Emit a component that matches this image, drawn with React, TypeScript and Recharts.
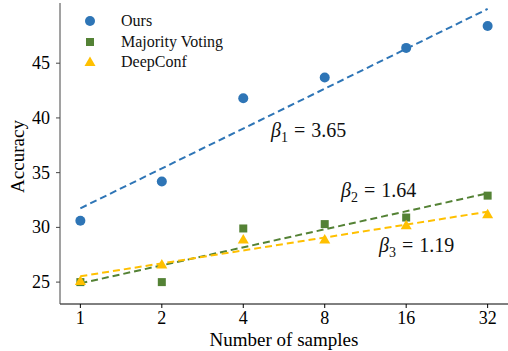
import React from "react";
import { ComposedChart, Scatter, XAxis, YAxis } from "recharts";

// number of samples (x axis, log2 spaced)
const samples = [1, 2, 4, 8, 16, 32];
// accuracy per method
const ours = [30.6, 34.2, 41.8, 43.7, 46.4, 48.4];
const majority = [25.0, 25.0, 29.9, 30.3, 30.9, 32.9];
const deepconf = [25.1, 26.6, 28.9, 28.9, 30.2, 31.2];
const yTicks = [25, 30, 35, 40, 45];

const BLUE = "#2e75b6";
const GREEN = "#548235";
const YELLOW = "#ffc000";
const FONT = "'Liberation Serif', 'Times New Roman', serif";

const toPoints = (ys: number[]) => samples.map((x, i) => ({ x, y: ys[i] }));

// least squares fit of y against log2(x), drawn from first to last sample
function fitLine(ys: number[]) {
  const lx = samples.map((s) => Math.log2(s));
  const mx = lx.reduce((a, b) => a + b, 0) / lx.length;
  const my = ys.reduce((a, b) => a + b, 0) / ys.length;
  let num = 0;
  let den = 0;
  lx.forEach((v, i) => {
    num += (v - mx) * (ys[i] - my);
    den += (v - mx) * (v - mx);
  });
  const slope = num / den;
  const icpt = my - slope * mx;
  const first = samples[0];
  const last = samples[samples.length - 1];
  return [
    { x: first, y: icpt + slope * Math.log2(first) },
    { x: last, y: icpt + slope * Math.log2(last) },
  ];
}

const Circle = (p: any) => <circle cx={p.cx} cy={p.cy} r={5} fill={BLUE} />;
const Square = (p: any) => (
  <rect x={p.cx - 4} y={p.cy - 4} width={8} height={8} fill={GREEN} />
);
const Triangle = (p: any) => (
  <polygon
    points={`${p.cx},${p.cy - 5.5} ${p.cx - 5.5},${p.cy + 4} ${p.cx + 5.5},${p.cy + 4}`}
    fill={YELLOW}
  />
);
const NoDot = () => <g />;

const XTick = (p: any) => (
  <text x={p.x} y={p.y + 12} textAnchor="middle" fontFamily={FONT} fontSize={18} fill="#000">
    {p.payload.value}
  </text>
);
const YTick = (p: any) => (
  <text x={p.x - 2} y={p.y + 6} textAnchor="end" fontFamily={FONT} fontSize={18} fill="#000">
    {p.payload.value}
  </text>
);

const legendItems = [
  { name: "Ours", color: BLUE, kind: "circle" },
  { name: "Majority Voting", color: GREEN, kind: "square" },
  { name: "DeepConf", color: YELLOW, kind: "triangle" },
];

function Beta({ sub, val, left, top }: { sub: number; val: string; left: number; top: number }) {
  return (
    <div
      style={{
        position: "absolute",
        left,
        top,
        fontFamily: FONT,
        fontSize: 20,
        color: "#111",
        whiteSpace: "nowrap",
      }}
    >
      <i>β</i>
      <sub style={{ fontSize: 14 }}>{sub}</sub>
      <span style={{ margin: "0 6px" }}>=</span>
      {val}
    </div>
  );
}

export default function App() {
  const dash = { strokeWidth: 2, strokeDasharray: "7 4" };
  return (
    <div style={{ position: "absolute", left: 0, top: 0, width: 508, height: 351, background: "#fff", fontFamily: FONT }}>
      <ComposedChart width={508} height={351} margin={{ top: 3, right: 0, bottom: 0, left: 10 }} style={{ fontFamily: FONT }}>
        <XAxis
          dataKey="x"
          type="number"
          scale="log"
          domain={[2 ** -0.25, 2 ** 5.25]}
          ticks={samples}
          allowDataOverflow
          height={47}
          stroke="#000"
          tickSize={4}
          tickMargin={4}
          tick={XTick}
          label={{
            value: "Number of samples",
            position: "insideBottom",
            offset: 5,
            style: { fontFamily: FONT, fontSize: 19, fill: "#000" },
          }}
        />
        <YAxis
          dataKey="y"
          type="number"
          domain={[23, 50.5]}
          ticks={yTicks}
          allowDataOverflow
          width={50}
          stroke="#444"
          tickSize={4}
          tickMargin={4}
          tick={YTick}
          label={{
            value: "Accuracy",
            angle: -90,
            position: "insideLeft",
            offset: 7,
            dy: 3,
            style: { fontFamily: FONT, fontSize: 19, fill: "#000", textAnchor: "middle" },
          }}
        />
        <Scatter data={fitLine(ours)} line={{ stroke: BLUE, ...dash }} shape={NoDot} isAnimationActive={false} />
        <Scatter data={fitLine(majority)} line={{ stroke: GREEN, ...dash }} shape={NoDot} isAnimationActive={false} />
        <Scatter data={fitLine(deepconf)} line={{ stroke: YELLOW, ...dash }} shape={NoDot} isAnimationActive={false} />
        <Scatter name="Ours" data={toPoints(ours)} shape={Circle} isAnimationActive={false} />
        <Scatter name="Majority Voting" data={toPoints(majority)} shape={Square} isAnimationActive={false} />
        <Scatter name="DeepConf" data={toPoints(deepconf)} shape={Triangle} isAnimationActive={false} />
      </ComposedChart>

      <div style={{ position: "absolute", left: 82, top: 11, fontFamily: FONT, fontSize: 16, color: "#111" }}>
        {legendItems.map((it) => (
          <div key={it.name} style={{ display: "flex", alignItems: "center", height: 20.5 }}>
            <svg width={16} height={16} style={{ marginRight: 23 }}>
              {it.kind === "circle" && <circle cx={8} cy={8} r={5} fill={it.color} />}
              {it.kind === "square" && <rect x={4} y={4} width={8} height={8} fill={it.color} />}
              {it.kind === "triangle" && <polygon points="8,2.5 2.5,12 13.5,12" fill={it.color} />}
            </svg>
            <span>{it.name}</span>
          </div>
        ))}
      </div>

      <Beta sub={1} val="3.65" left={271} top={119} />
      <Beta sub={2} val="1.64" left={341} top={179} />
      <Beta sub={3} val="1.19" left={379} top={234} />
    </div>
  );
}
